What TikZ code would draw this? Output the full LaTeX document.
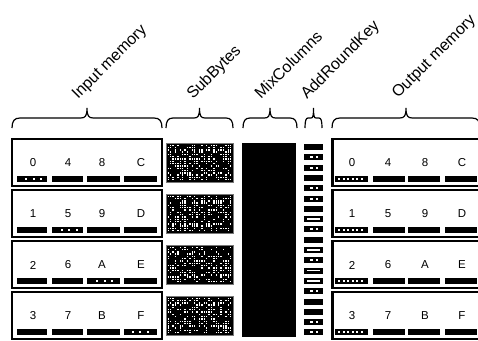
\documentclass[tikz,border=0pt]{standalone}
\usepackage{fontspec}
\setmainfont{Liberation Sans}
\usepackage{xcolor}
\definecolor{framegray}{RGB}{120,120,120}

% curly brace over a block: left x, right x, curl size
\newcommand{\blockbrace}[3]{%
  \pgfmathsetmacro{\bmid}{(#1+#2)/2}
  \draw[bracestyle] (#1,128) .. controls (#1,121) and ({#1+0.3*#3},118) .. ({#1+#3},118)
    -- ({\bmid-0.8*#3},118) .. controls ({\bmid-0.2*#3},118) and (\bmid,116) .. (\bmid,108)
    .. controls (\bmid,116) and ({\bmid+0.2*#3},118) .. ({\bmid+0.8*#3},118)
    -- ({#2-#3},118) .. controls ({#2-0.3*#3},118) and (#2,121) .. (#2,128);
}

\begin{document}
\begin{tikzpicture}[x=1pt, y=-1pt, line join=miter,
    boxline/.style={black, line width=1.3pt},
    bracestyle/.style={black, line width=1.2pt},
    digit/.style={inner sep=0pt, font=\fontsize{11.5}{12}\selectfont},
    oplabel/.style={rotate=45, anchor=base west, inner sep=0pt, font=\fontsize{16}{18}\selectfont}]

    \clip (0,0) rectangle (478,340);
    \pgfmathsetseed{7}

    % =======================================================
    % BRACES AND LABELS
    % =======================================================
    \blockbrace{12}{162}{8}
    \blockbrace{166}{233}{7}
    \blockbrace{243}{297}{7}
    \blockbrace{305}{322}{3}
    \blockbrace{332}{480}{8}

    \node[oplabel] (lblInput) at (78,100) {Input memory};
    \node[oplabel] (lblSub) at (193,100) {SubBytes};
    \node[oplabel] (lblMix) at (261,100) {MixColumns};
    \node[oplabel] (lblAdd) at (307,100) {AddRoundKey};
    \node[oplabel] (lblOutput) at (398,99) {Output memory};

    % =======================================================
    % ROWS OF THE STATE
    % =======================================================
    \foreach \r/\a/\b/\cc/\d in {0/0/4/8/C, 1/1/5/9/D, 2/2/6/A/E, 3/3/7/B/F} {
        \pgfmathsetmacro{\rowtop}{139+51*\r}

        % 1. Input memory box
        \draw[boxline] (12,\rowtop) rectangle (162,\rowtop+47);

        % 2. Output memory box (runs off the right edge)
        \draw[boxline] (480,\rowtop) -- (332,\rowtop) -- (332,\rowtop+47) -- (480,\rowtop+47);
        \draw[black, line width=2.2pt] (332.5,\rowtop) -- (332.5,\rowtop+47);

        % 3. Byte labels and bars
        \foreach \c/\t/\xin/\xout/\lin/\rin/\lout/\rout in
            {0/\a/33/352/17/47/335/368, 1/\b/68/388/52/83/373/405,
             2/\cc/102/425/87/120/408/440, 3/\d/141/462/124/157/445/477} {
            \node[digit] (in-\r-\c) at (\xin,\rowtop+24) {\t};
            \node[digit] (out-\r-\c) at (\xout,\rowtop+24) {\t};
            \fill[black] (\lin,\rowtop+37) rectangle (\rin,\rowtop+43);
            \fill[black] (\lout,\rowtop+37) rectangle (\rout,\rowtop+43);
        }

        % 4. Dotted bars: diagonal in the input, first column in the output
        \pgfmathsetmacro{\dx}{17+35.5*\r}
        \foreach \k in {0,1,2} {
            \fill[white] (\dx+8+7.5*\k,\rowtop+39) rectangle ++(2,2);
        }
        \foreach \k in {338,342.5,347,351.5,356,360.5} {
            \fill[white] (\k,\rowtop+39) rectangle ++(2.2,2.2);
        }

        % 5. SubBytes box with noisy texture
        \fill[black] (166,\rowtop+4) rectangle (233,\rowtop+43);
        \foreach \i in {0,...,26} {
            \foreach \j in {0,...,15} {
                \pgfmathsetmacro{\q}{rnd}
                \ifdim\q pt<0.45pt
                    \fill[white] (167.5+2.4*\i,\rowtop+5.5+2.3*\j) rectangle ++(1.4,1.4);
                \fi
            }
        }
        \draw[framegray, line width=0.8pt] (166,\rowtop+4) rectangle (233,\rowtop+43);
    }

    % =======================================================
    % MIXCOLUMNS
    % =======================================================
    \fill[black] (242,143) rectangle (296,337);

    % =======================================================
    % ADDROUNDKEY (S solid, D dots, H hollow)
    % =======================================================
    \foreach \kind [count=\n from 0] in {S,D,D,S,D,D,S,H,D,S,H,D,H,H,D,S,S,D,D} {
        \pgfmathsetmacro{\ky}{144+10.3*\n}
        \fill[black] (304,\ky) rectangle (323,\ky+6);
        \if\kind D
            \fill[white] (310,\ky+2) rectangle (312.5,\ky+4);
            \fill[white] (316,\ky+2) rectangle (318.3,\ky+4);
        \fi
        \if\kind H
            \fill[white] (307,\ky+2.2) rectangle (320,\ky+3.8);
        \fi
    }

\end{tikzpicture}
\end{document}
